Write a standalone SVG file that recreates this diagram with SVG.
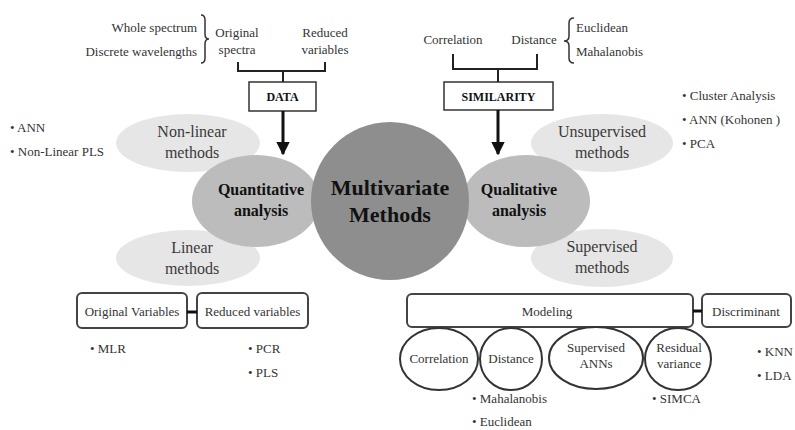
<svg xmlns="http://www.w3.org/2000/svg" width="795" height="430" viewBox="0 0 795 430">
<defs>
<style>
.t{font-family:"Liberation Serif","Times New Roman",serif;fill:#333;font-size:13px}
.c{text-anchor:middle}
.m{font-size:16px;fill:#3a3a3a}
.b{font-weight:bold;fill:#111}
.light{fill:#e6e6e6}
.mid{fill:#bcbcbc}
.box{fill:#fff;stroke:#333;stroke-width:1.5}
.rbox{fill:#fff;stroke:#444;stroke-width:2}
.ov{fill:#fff;stroke:#333;stroke-width:2}
.ln{fill:none;stroke:#222;stroke-width:2}
.br{fill:none;stroke:#333;stroke-width:1.5}
</style>
<marker id="ah" viewBox="0 0 10 10" refX="9" refY="5" markerWidth="4.5" markerHeight="4.5" orient="auto" markerUnits="strokeWidth">
<path d="M0,0 L10,5 L0,10 z" fill="#111"/>
</marker>
</defs>
<rect width="795" height="430" fill="#fff"/>

<g id="nonlinear"><ellipse class="light" cx="188" cy="143" rx="72" ry="29"/><text class="t m c" x="192" y="137">Non-linear</text><text class="t m c" x="192" y="158">methods</text></g>
<g id="linear"><ellipse class="light" cx="188" cy="258" rx="72" ry="28"/><text class="t m c" x="192" y="253">Linear</text><text class="t m c" x="192" y="274">methods</text></g>
<g id="unsupervised"><ellipse class="light" cx="602" cy="143" rx="71" ry="29"/><text class="t m c" x="602" y="137">Unsupervised</text><text class="t m c" x="602" y="158">methods</text></g>
<g id="supervised"><ellipse class="light" cx="602" cy="258" rx="71" ry="29"/><text class="t m c" x="602" y="252">Supervised</text><text class="t m c" x="602" y="273">methods</text></g>

<g id="quantitative"><ellipse class="mid" cx="256" cy="201" rx="64" ry="46"/><text class="t m b c" x="261" y="195">Quantitative</text><text class="t m b c" x="261" y="216">analysis</text></g>
<g id="qualitative"><ellipse class="mid" cx="526" cy="201" rx="64" ry="46"/><text class="t m b c" x="519" y="195">Qualitative</text><text class="t m b c" x="519" y="216">analysis</text></g>
<g id="multivariate"><circle cx="390" cy="201" r="79" fill="#8e8e8e"/><text class="t b c" x="390" y="195" style="font-size:22px">Multivariate</text><text class="t b c" x="390" y="222" style="font-size:22px">Methods</text></g>

<g id="data"><rect class="box" x="249" y="82" width="67" height="29"/><text class="t b c" x="282.5" y="101" style="font-size:12px">DATA</text></g>
<g id="similarity"><rect class="box" x="444" y="82" width="109" height="28"/><text class="t b c" x="498.5" y="101" style="font-size:12px">SIMILARITY</text></g>

<g id="data-inputs">
<text class="t" x="197" y="32" text-anchor="end">Whole spectrum</text>
<text class="t" x="197" y="56" text-anchor="end">Discrete wavelengths</text>
<path class="br" d="M201,15 Q205,15 205,20 L205,34 Q205,39 209,39 Q205,39 205,44 L205,58 Q205,63 201,63"/>
<text class="t c" x="237" y="37">Original</text>
<text class="t c" x="237" y="54">spectra</text>
<text class="t c" x="325" y="37">Reduced</text>
<text class="t c" x="325" y="54">variables</text>
</g>
<g id="similarity-inputs">
<text class="t c" x="453" y="44">Correlation</text>
<text class="t c" x="534" y="44">Distance</text>
<path class="br" d="M574,18 Q569,18 569,23 L569,36 Q569,41 564,41 Q569,41 569,46 L569,58 Q569,63 574,63"/>
<text class="t" x="576" y="32">Euclidean</text>
<text class="t" x="576" y="56">Mahalanobis</text>
</g>

<g id="lists">
<text class="t" x="10" y="132">• ANN</text>
<text class="t" x="10" y="156">• Non-Linear PLS</text>
<text class="t" x="682" y="100">• Cluster Analysis</text>
<text class="t" x="682" y="124">• ANN (Kohonen )</text>
<text class="t" x="682" y="148">• PCA</text>
<text class="t" x="90" y="353">• MLR</text>
<text class="t" x="248" y="353">• PCR</text>
<text class="t" x="248" y="377">• PLS</text>
<text class="t" x="472" y="403">• Mahalanobis</text>
<text class="t" x="472" y="426">• Euclidean</text>
<text class="t" x="652" y="403">• SIMCA</text>
<text class="t" x="757" y="356">• KNN</text>
<text class="t" x="757" y="380">• LDA</text>
</g>

<g id="original-variables"><rect class="rbox" x="77" y="293" width="110" height="35" rx="5"/><text class="t c" x="132" y="316">Original Variables</text></g>
<g id="reduced-variables"><rect class="rbox" x="197" y="293" width="111" height="35" rx="5"/><text class="t c" x="252.5" y="316">Reduced variables</text></g>
<g id="modeling"><rect class="rbox" x="407" y="294" width="286" height="33" rx="5"/><text class="t c" x="547" y="316">Modeling</text></g>
<g id="discriminant"><rect class="rbox" x="702" y="294" width="89" height="33" rx="5"/><text class="t c" x="746" y="316">Discriminant</text></g>

<g id="correlation"><ellipse class="ov" cx="439" cy="359" rx="39" ry="31"/><text class="t c" x="439" y="363">Correlation</text></g>
<g id="distance"><ellipse class="ov" cx="511" cy="359" rx="31" ry="31"/><text class="t c" x="511" y="363">Distance</text></g>
<g id="supervised-anns"><ellipse class="ov" cx="596" cy="358" rx="47" ry="31"/><text class="t c" x="596" y="352">Supervised</text><text class="t c" x="596" y="368">ANNs</text></g>
<g id="residual-variance"><ellipse class="ov" cx="678" cy="359" rx="33" ry="31"/><text class="t c" x="679" y="352">Residual</text><text class="t c" x="679" y="368">variance</text></g>

<g id="connectors">
<path class="ln" d="M238,62 V71 H325 V62 M283,71 V82"/>
<path class="ln" d="M453,54 V69 H537 V54 M498,69 V82"/>
<line x1="283" y1="111" x2="283" y2="154" stroke="#111" stroke-width="3" marker-end="url(#ah)"/>
<line x1="498" y1="110" x2="498" y2="154" stroke="#111" stroke-width="3" marker-end="url(#ah)"/>
<line x1="187" y1="312" x2="197" y2="312" stroke="#111" stroke-width="3"/>
<line x1="693" y1="311" x2="702" y2="311" stroke="#111" stroke-width="3"/>
</g>
</svg>
